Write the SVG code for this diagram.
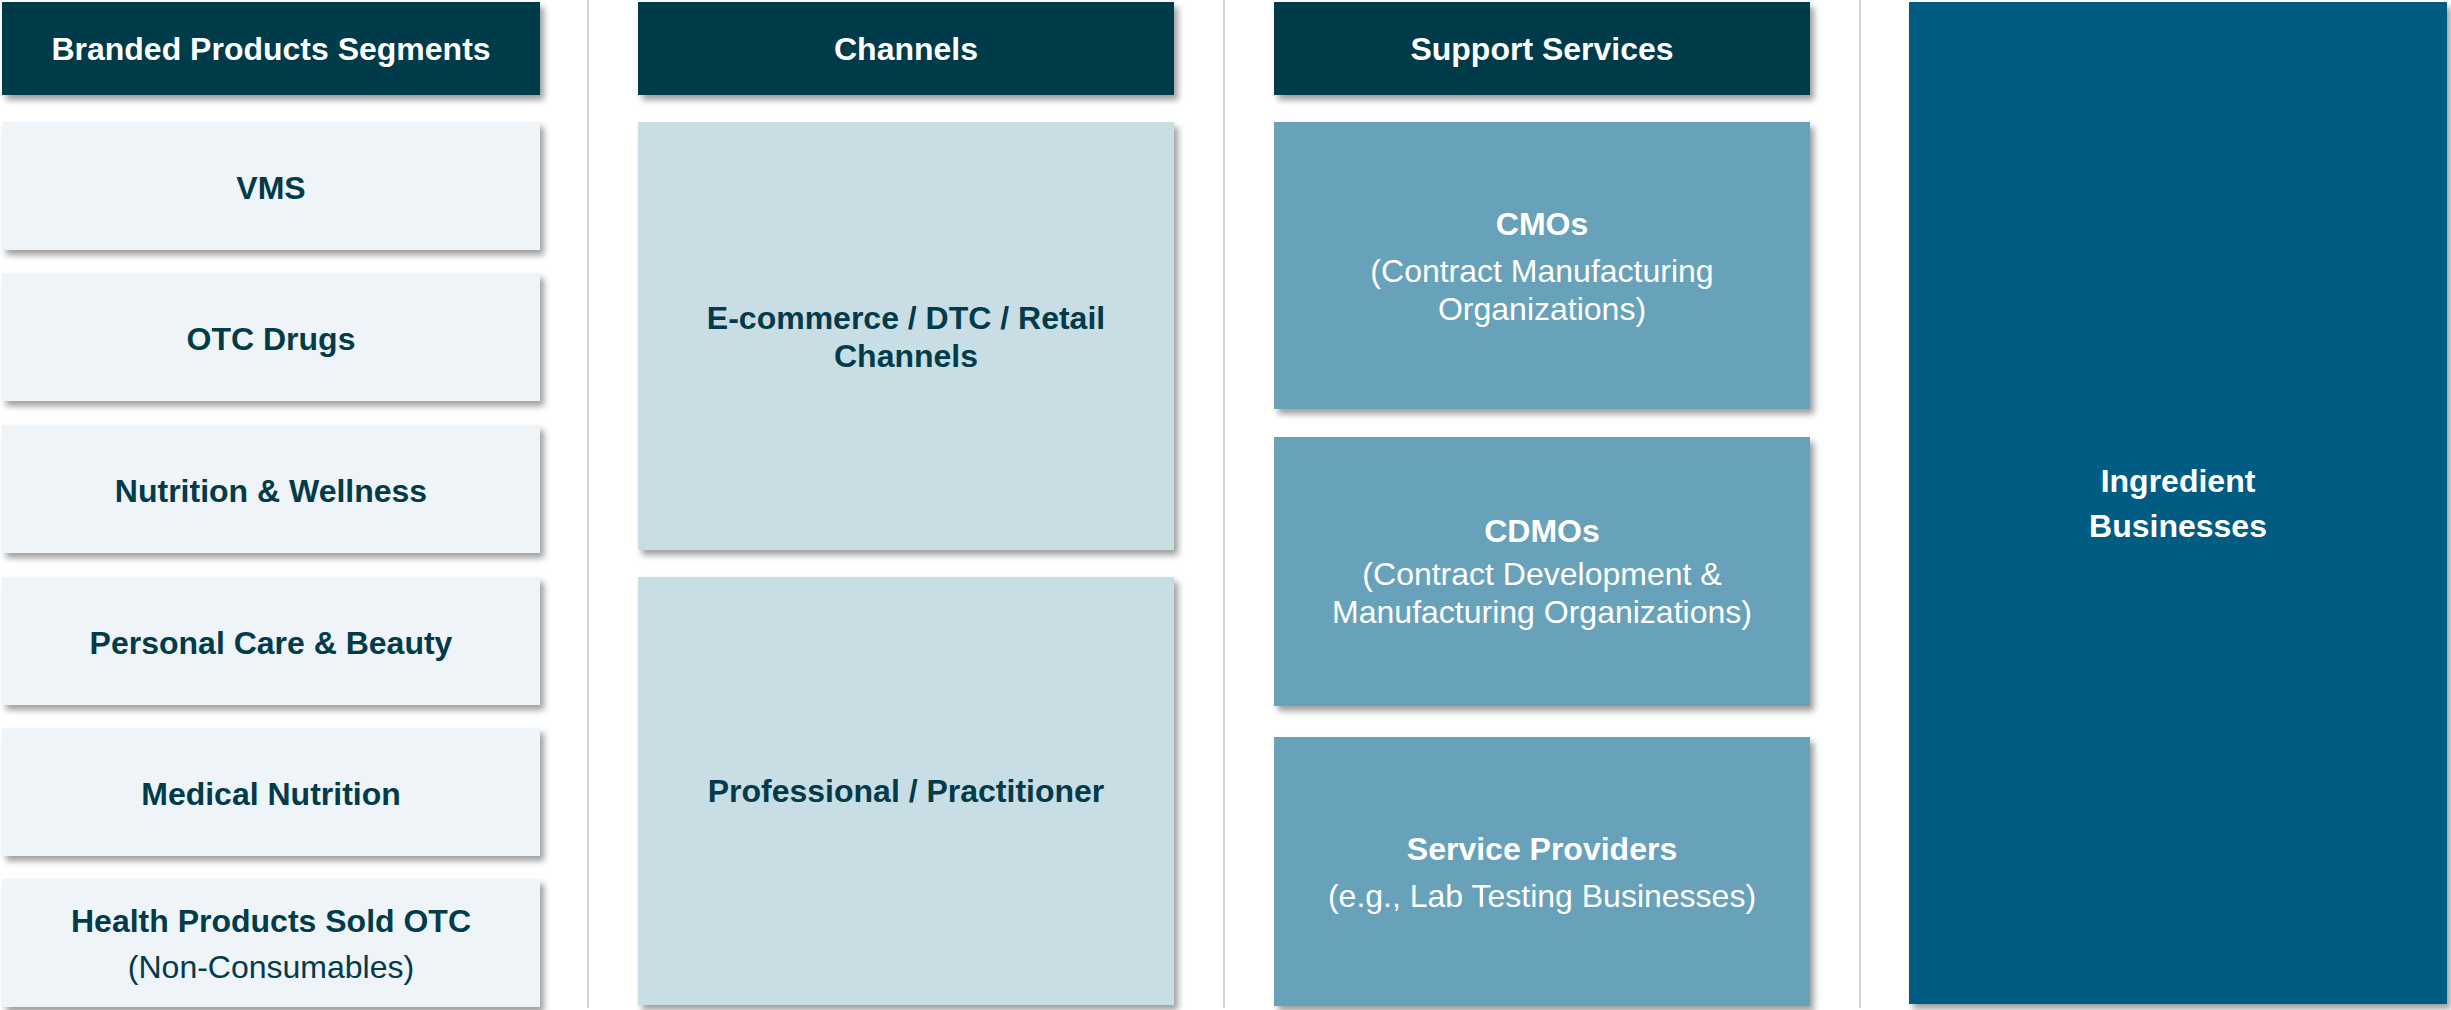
<svg xmlns="http://www.w3.org/2000/svg" width="2451" height="1010" viewBox="0 0 2451 1010">
<defs>
<filter id="sh" x="-5%" y="-5%" width="115%" height="120%">
<feDropShadow dx="4" dy="5" stdDeviation="3" flood-color="#000" flood-opacity="0.38"/>
</filter>
<style>
.hdr{fill:#023B4A;filter:url(#sh)}
.lt{fill:#EEF4F7;filter:url(#sh)}
.ch{fill:#C9DDE5;filter:url(#sh)}
.sp{fill:#68A2BA;filter:url(#sh)}
.ing{fill:#035B82;filter:url(#sh)}
text{font-family:"Liberation Sans",Arial,sans-serif;font-size:32px;text-anchor:middle}
.b{font-weight:bold}
.w{fill:#FFFFFF}
.d{fill:#023B4A}
.sep{stroke:#D9D3CC;stroke-width:2;fill:none}
</style>
</defs>
<rect width="2451" height="1010" fill="#FFFFFF"/>
<g id="connectors">
<line class="sep" x1="588" y1="0" x2="588" y2="1008"/>
<line class="sep" x1="1224" y1="0" x2="1224" y2="1008"/>
<line class="sep" x1="1860" y1="0" x2="1860" y2="1008"/>
</g>
<g id="hdr-branded"><rect class="hdr" x="2" y="2" width="538" height="93"/><text class="b w" x="271" y="60">Branded Products Segments</text></g>
<g id="hdr-channels"><rect class="hdr" x="638" y="2" width="536" height="93"/><text class="b w" x="906" y="60">Channels</text></g>
<g id="hdr-support"><rect class="hdr" x="1274" y="2" width="536" height="93"/><text class="b w" x="1542" y="60">Support Services</text></g>
<g id="vms"><rect class="lt" x="2" y="122" width="538" height="128"/><text class="b d" x="271" y="199">VMS</text></g>
<g id="otc"><rect class="lt" x="2" y="273" width="538" height="128"/><text class="b d" x="271" y="350">OTC Drugs</text></g>
<g id="nutrition"><rect class="lt" x="2" y="425" width="538" height="128"/><text class="b d" x="271" y="502">Nutrition &amp; Wellness</text></g>
<g id="personal"><rect class="lt" x="2" y="577" width="538" height="128"/><text class="b d" x="271" y="654">Personal Care &amp; Beauty</text></g>
<g id="medical"><rect class="lt" x="2" y="728" width="538" height="128"/><text class="b d" x="271" y="805">Medical Nutrition</text></g>
<g id="health"><rect class="lt" x="2" y="879" width="538" height="128"/><text class="b d" x="271" y="932">Health Products Sold OTC</text><text class="d" x="271" y="978">(Non-Consumables)</text></g>
<g id="ecommerce"><rect class="ch" x="638" y="122" width="536" height="428"/><text class="b d" x="906" y="329">E-commerce / DTC / Retail</text><text class="b d" x="906" y="367">Channels</text></g>
<g id="professional"><rect class="ch" x="638" y="577" width="536" height="428"/><text class="b d" x="906" y="802">Professional / Practitioner</text></g>
<g id="cmos"><rect class="sp" x="1274" y="122" width="536" height="287"/><text class="b w" x="1542" y="235">CMOs</text><text class="w" x="1542" y="282">(Contract Manufacturing</text><text class="w" x="1542" y="320">Organizations)</text></g>
<g id="cdmos"><rect class="sp" x="1274" y="437" width="536" height="269"/><text class="b w" x="1542" y="542">CDMOs</text><text class="w" x="1542" y="585">(Contract Development &amp;</text><text class="w" x="1542" y="623">Manufacturing Organizations)</text></g>
<g id="service"><rect class="sp" x="1274" y="737" width="536" height="269"/><text class="b w" x="1542" y="860">Service Providers</text><text class="w" x="1542" y="907">(e.g., Lab Testing Businesses)</text></g>
<g id="ingredient"><rect class="ing" x="1909" y="2" width="538" height="1002"/><text class="b w" x="2178" y="492">Ingredient</text><text class="b w" x="2178" y="537">Businesses</text></g>
</svg>
